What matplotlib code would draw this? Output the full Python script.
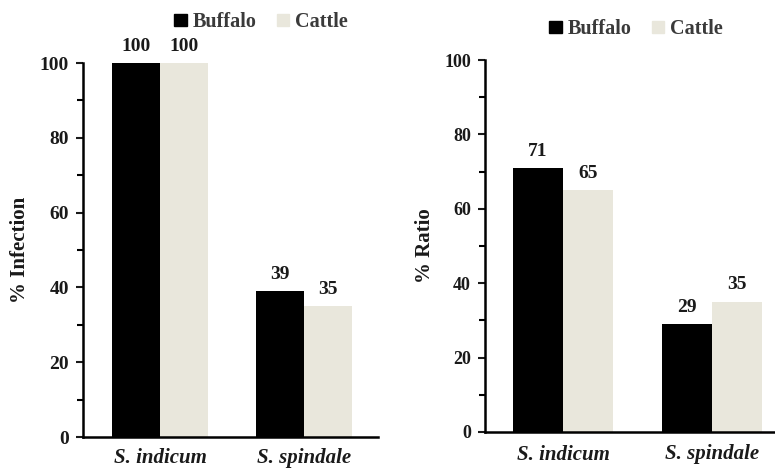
import matplotlib
matplotlib.use("Agg")
import matplotlib.pyplot as plt
from matplotlib.patches import Patch
from matplotlib.ticker import MultipleLocator
import numpy as np

plt.rcParams["font.family"] = ["Liberation Serif", "DejaVu Serif"]
plt.rcParams["font.weight"] = "bold"

species = ["S. indicum", "S. spindale"]
groups = ["Buffalo", "Cattle"]
infection_buffalo = [100, 39]
infection_cattle = [100, 35]
ratio_buffalo = [71, 29]
ratio_cattle = [65, 35]

BUFFALO_COLOR = "#000000"
CATTLE_COLOR = "#e9e7dc"
TEXT_COLOR = "#1a1a1a"


def draw_panel(ax, buffalo, cattle, ylabel, xlim, tick_size, xpad):
    x = np.arange(len(species))
    w = 1 / 3
    b1 = ax.bar(x - w / 2, buffalo, w, color=BUFFALO_COLOR)
    b2 = ax.bar(x + w / 2, cattle, w, color=CATTLE_COLOR)
    for bars in (b1, b2):
        for rect in bars:
            h = rect.get_height()
            ax.annotate(f"{h:g}", (rect.get_x() + rect.get_width() / 2, h),
                        textcoords="offset points", xytext=(0, 6),
                        ha="center", va="bottom", fontsize=14,
                        fontweight="bold", color=TEXT_COLOR)
    ax.set_xlim(*xlim)
    ax.set_ylim(0, 100)
    ax.yaxis.set_major_locator(MultipleLocator(20))
    ax.yaxis.set_minor_locator(MultipleLocator(10))
    ax.set_xticks(x)
    ax.set_xticklabels(species, fontstyle="italic", fontweight="bold", fontsize=15)
    ax.tick_params(axis="x", length=0, pad=xpad, colors=TEXT_COLOR)
    ax.tick_params(axis="y", which="major", length=5, width=1.5, labelsize=tick_size,
                   colors=TEXT_COLOR, pad=5)
    ax.tick_params(axis="y", which="minor", length=4, width=1.5)
    for lbl in ax.get_yticklabels():
        lbl.set_fontweight("bold")
    for side in ("top", "right"):
        ax.spines[side].set_visible(False)
    for side in ("left", "bottom"):
        ax.spines[side].set_linewidth(1.8)
    ax.set_ylabel(ylabel, fontsize=15, fontweight="bold", color=TEXT_COLOR)


fig = plt.figure(figsize=(7.75, 4.68), dpi=100)
W, H = 775, 468

ax1 = fig.add_axes([83 / W, 1 - 437 / H, 295 / W, 374 / H])
draw_panel(ax1, infection_buffalo, infection_cattle, "% Infection",
           (-0.535, 1.514), 14, 8)
ax1.yaxis.set_label_coords(-0.18, 0.5)

ax2 = fig.add_axes([485 / W, 1 - 432 / H, 290 / W, 372 / H])
draw_panel(ax2, ratio_buffalo, ratio_cattle, "% Ratio",
           (-0.523, 1.423), 13, 9)
ax2.yaxis.set_label_coords(-0.172, 0.5)

handles = [Patch(color=BUFFALO_COLOR), Patch(color=CATTLE_COLOR)]
for cx, cy in ((261, 22), (636, 29)):
    fig.legend(handles, groups, loc="center", bbox_to_anchor=(cx / W, 1 - cy / H),
               ncol=2, frameon=False, handlelength=0.6, handleheight=0.6,
               handletextpad=0.3, columnspacing=1.0,
               prop={"size": 14.5, "weight": "bold"}, labelcolor="#3a3a3a")

fig.savefig("out.png", dpi=100)
